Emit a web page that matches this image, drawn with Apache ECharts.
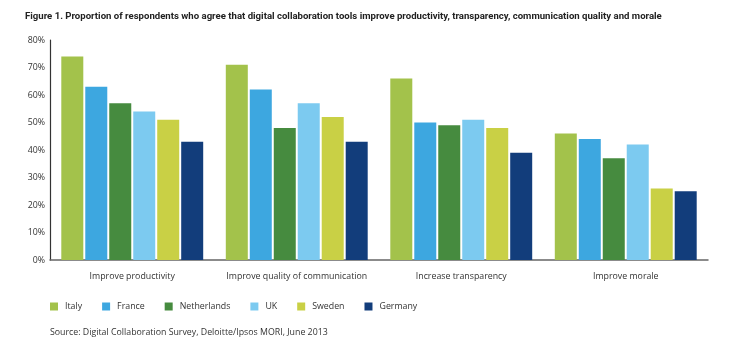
<!DOCTYPE html>
<html>
<head>
<meta charset="utf-8">
<style>
  html, body { margin: 0; padding: 0; background: #ffffff; }
  #chart { width: 740px; height: 345px; }
</style>
<script src="https://cdn.jsdelivr.net/npm/echarts@6/dist/echarts.min.js"></script>
</head>
<body>
<div id="chart"></div>
<script>
// Survey categories (x axis)
const categories = ['Improve productivity', 'Improve quality of communication', 'Increase transparency', 'Improve morale'];

// Share of respondents agreeing, in percent, per country
const italy       = [74, 71, 66, 46];
const france      = [63, 62, 50, 44];
const netherlands = [57, 48, 49, 37];
const uk          = [54, 57, 51, 42];
const sweden      = [51, 52, 48, 26];
const germany     = [43, 43, 39, 25];

const countries = ['Italy', 'France', 'Netherlands', 'UK', 'Sweden', 'Germany'];
const seriesValues = [italy, france, netherlands, uk, sweden, germany];
const colors = ['#a3c24b', '#3da7e0', '#468b3f', '#7ccaf0', '#c9d045', '#123d7b'];

// Y axis ticks: 0% to 80% every 10%
const yMin = 0, yMax = 80, yStep = 10;

const font = '"Open Sans", "DejaVu Sans", sans-serif';
const fs = 8.8;

const chart = echarts.init(document.getElementById('chart'), null, { renderer: 'canvas' });

chart.setOption({
  animation: false,
  color: colors,
  title: {
    text: 'Figure 1. Proportion of respondents who agree that digital collaboration tools improve productivity, transparency, communication quality and morale',
    left: 20,
    top: 7,
    textStyle: { fontFamily: 'Roboto, sans-serif', fontSize: 9.6, fontWeight: 'bold', color: '#222' }
  },
  graphic: [{
    type: 'text',
    left: 50,
    top: 328,
    style: { text: 'Source: Digital Collaboration Survey, Deloitte/Ipsos MORI, June 2013', font: fs + 'px ' + font, fill: '#333' }
  }],
  legend: {
    data: countries,
    left: 45,
    top: 297,
    icon: 'rect',
    itemWidth: 8,
    itemHeight: 8,
    itemGap: 20,
    textStyle: { fontFamily: font, fontSize: fs, color: '#333', padding: [0, 0, 0, 2] }
  },
  grid: { left: 50, right: 32, top: 40, bottom: 85 },
  xAxis: {
    type: 'category',
    data: categories,
    axisLine: { lineStyle: { color: '#666', width: 1.5 } },
    axisTick: { show: false },
    axisLabel: { interval: 0, fontFamily: font, fontSize: fs, color: '#333', margin: 12 }
  },
  yAxis: {
    type: 'value',
    min: yMin,
    max: yMax,
    interval: yStep,
    axisLine: { show: true, lineStyle: { color: '#333', width: 1.2 } },
    axisTick: { show: false },
    splitLine: { show: false },
    axisLabel: { fontFamily: font, fontSize: fs, color: '#333', margin: 5, formatter: '{value}%' }
  },
  series: countries.map((name, i) => ({
    name: name,
    type: 'bar',
    data: seriesValues[i],
    barWidth: 22,
    barGap: '9%',
    itemStyle: { color: colors[i] }
  }))
});
</script>
</body>
</html>
